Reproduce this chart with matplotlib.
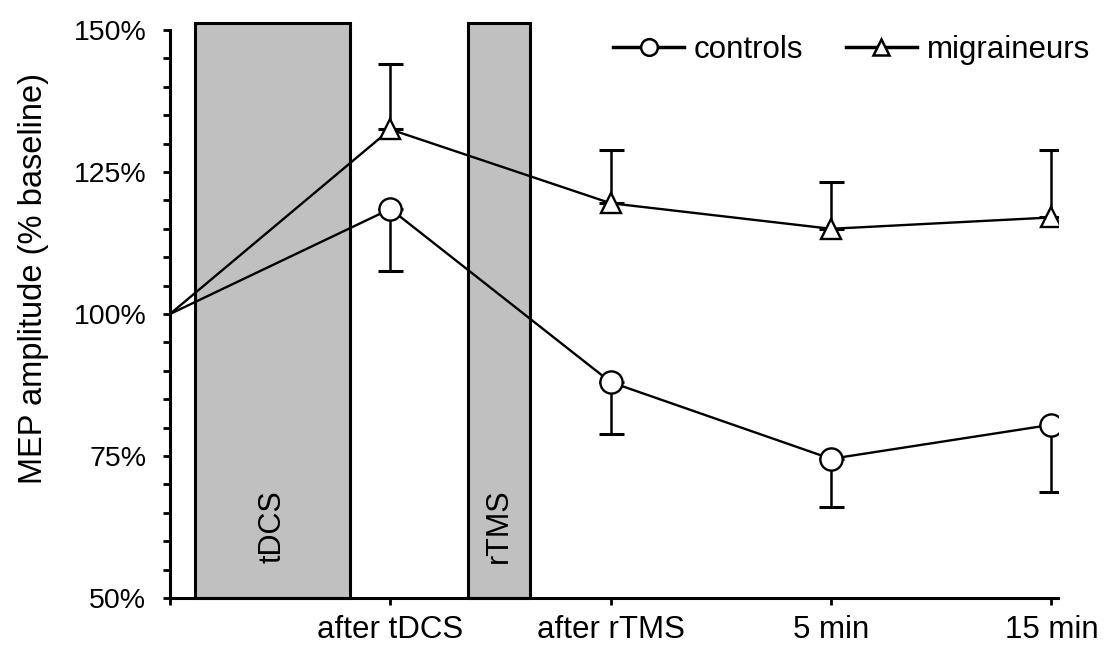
import matplotlib.pyplot as plt
import matplotlib.patches as patches
from matplotlib.lines import Line2D

# data
timepoints = ["", "after tDCS", "after rTMS", "5 min", "15 min"]
controls = [100, 118.5, 88.0, 74.5, 80.5]
controls_err_low = [0, 11.0, 9.2, 8.4, 11.8]
migraineurs = [100, 132.5, 119.5, 115.0, 117.0]
migraineurs_err_high = [0, 11.5, 9.4, 8.2, 11.8]

# stimulation periods (x start, x end) on the time axis
tdcs_span = (0.113, 0.817)
rtms_span = (1.353, 1.634)

plt.rcParams['font.family'] = ['Liberation Sans', 'DejaVu Sans']

fig = plt.figure(figsize=(11.06, 6.48), dpi=100)
ax = fig.add_axes([170 / 1106, 50 / 648, 888 / 1106, 568 / 648])

x = list(range(len(timepoints)))

# gray blocks for tDCS and rTMS
for (x0, x1), name in [(tdcs_span, "tDCS"), (rtms_span, "rTMS")]:
    rect = patches.Rectangle((x0, 50), x1 - x0, 101.3, facecolor='#c0c0c0',
                             edgecolor='black', linewidth=2.2, clip_on=False, zorder=1)
    ax.add_patch(rect)
    ax.text((x0 + x1) / 2, 56.2, name, rotation=90, ha='center', va='bottom',
            fontsize=22, zorder=2)

lw = 1.7
ax.errorbar(x[1:], controls[1:], yerr=[controls_err_low[1:], [0] * 4], fmt='none',
            ecolor='black', elinewidth=1.8, capsize=9, capthick=2.2, zorder=3)
ax.errorbar(x[1:], migraineurs[1:], yerr=[[0] * 4, migraineurs_err_high[1:]], fmt='none',
            ecolor='black', elinewidth=1.8, capsize=9, capthick=2.2, zorder=3)

ax.plot(x, controls, color='black', linewidth=lw, marker='o', markersize=16,
        markerfacecolor='white', markeredgecolor='black', markeredgewidth=1.7,
        markevery=[1, 2, 3, 4], zorder=4)
ax.plot(x, migraineurs, color='black', linewidth=lw, marker='^', markersize=14.5,
        markerfacecolor='white', markeredgecolor='black', markeredgewidth=1.7,
        markevery=[1, 2, 3, 4], zorder=4)

ax.set_xlim(0, 4.03)
ax.set_ylim(50, 150)
ax.set_xticks(x)
ax.set_xticklabels(timepoints, fontsize=22.5)
ax.set_yticks([50, 75, 100, 125, 150])
ax.set_yticklabels(['50%', '75%', '100%', '125%', '150%'], fontsize=20.5)
ax.set_yticks(range(50, 151, 5), minor=True)
ax.tick_params(axis='both', which='both', direction='out', width=2, length=5)
ax.tick_params(axis='y', which='major', pad=12)
ax.tick_params(axis='x', which='major', pad=7)

for s in ['top', 'right']:
    ax.spines[s].set_visible(False)
for s in ['left', 'bottom']:
    ax.spines[s].set_linewidth(2.2)

ax.set_ylabel('MEP amplitude (% baseline)', fontsize=23.5, va='center')
ax.yaxis.set_label_coords((34 - 170) / 888, (598 - 278) / 568)

handles = [
    Line2D([], [], color='black', linewidth=2.5, marker='o', markersize=12,
           markerfacecolor='white', markeredgewidth=1.8),
    Line2D([], [], color='black', linewidth=2.5, marker='^', markersize=11,
           markerfacecolor='white', markeredgewidth=1.8),
]
fig.legend(handles, ['controls', 'migraineurs'], loc='center right',
           bbox_to_anchor=(1090 / 1106, 1 - 50 / 648), ncol=2, frameon=False,
           fontsize=22.5, handlelength=2.3, columnspacing=1.35, handletextpad=0.3,
           borderpad=0, borderaxespad=0)

fig.savefig('out.png', dpi=100)
